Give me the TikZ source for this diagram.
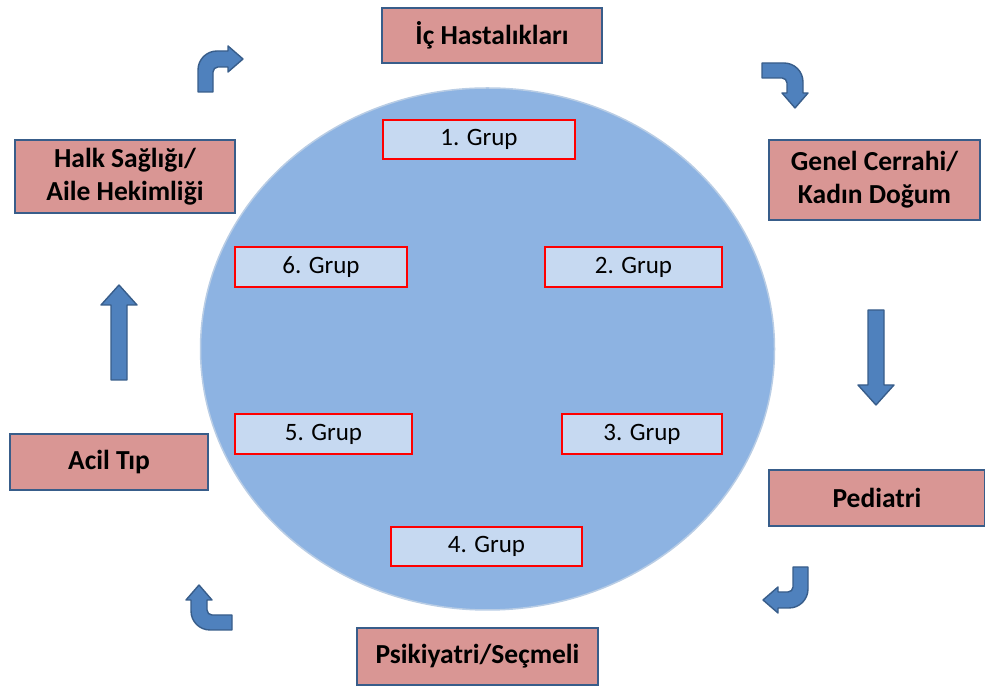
\documentclass[tikz,border=0pt]{standalone}
\usepackage{fontspec}
\setmainfont{Carlito}
\usepackage{tikz}
\usetikzlibrary{positioning}
\definecolor{rotfill}{HTML}{D99694}
\definecolor{rotline}{HTML}{385D8A}
\definecolor{ringfill}{HTML}{8DB3E2}
\definecolor{ringline}{HTML}{B9CDE5}
\definecolor{grupfill}{HTML}{C6D9F1}
\definecolor{pfeilfill}{HTML}{4F81BD}

\begin{document}
\begin{tikzpicture}[x=1pt,y=1pt]
\tikzset{rotation/.style = {draw=rotline, line width=1.6pt, fill=rotfill, align=center,
           font=\fontsize{27.5}{33}\selectfont\bfseries, inner sep=0pt},
         grup/.style = {draw=red, line width=1.8pt, fill=grupfill, inner sep=0pt,
           font=\fontsize{25}{30}\selectfont},
         pfeil/.style = {draw=rotline, line width=1.4pt, fill=pfeilfill, line join=round},
         bentarrow/.pic = {\filldraw[pfeil] (0,0) -- (0,22) .. controls (0,32.5) and (8.5,41) .. (19,41)
           -- (30,41) -- (30,46) -- (45,33) -- (30,20) -- (30,25) -- (20,25)
           .. controls (17.2,25) and (15,22.8) .. (15,20) -- (15,0) -- cycle;},
         blockarrow/.pic = {\filldraw[pfeil] (-8,0) -- (-8,75) -- (-18,75) -- (0,95) -- (18,75)
           -- (8,75) -- (8,0) -- cycle;}}
\useasboundingbox (0,0) rectangle (985,690);
            % ring
	\fill[ringfill] (487.5,341) ellipse [x radius=287, y radius=261];
	\draw[ringline, line width=1.5pt] (487.5,341) ellipse [x radius=287, y radius=261];
            % rotations
	\node[rotation, minimum width=220, minimum height=55] (ic) at (492,654.5) {İç Hastalıkları};
	\node[rotation, minimum width=211, minimum height=80] (genel) at (874.5,510) {Genel Cerrahi/\\Kadın Doğum};
	\node[rotation, minimum width=216, minimum height=56] (ped) at (877,192) {Pediatri};
	\node[rotation, minimum width=241, minimum height=57] (psi) at (477.5,33.5) {Psikiyatri/Seçmeli};
	\node[rotation, minimum width=198, minimum height=56] (acil) at (109,228) {Acil Tıp};
	\node[rotation, minimum width=220, minimum height=73] (halk) at (125,513.5) {Halk Sağlığı/\\Aile Hekimliği};
            % groups
	\node[grup, minimum width=192, minimum height=39] (g1) at (479,550.5) {1. Grup};
	\node[grup, minimum width=177, minimum height=40] (g2) at (633.5,423) {2. Grup};
	\node[grup, minimum width=160, minimum height=40] (g3) at (642,256) {3. Grup};
	\node[grup, minimum width=191, minimum height=39] (g4) at (486.5,143.5) {4. Grup};
	\node[grup, minimum width=177, minimum height=40] (g5) at (323.5,256) {5. Grup};
	\node[grup, minimum width=172, minimum height=40] (g6) at (321,423) {6. Grup};
            % arrows
	\pic at (198,598) {bentarrow};
	\pic[rotate=-90] at (762,627) {bentarrow};
	\pic at (876,380) [rotate=180] {blockarrow};
	\pic[rotate=180] at (808,123) {bentarrow};
	\pic[rotate=90] at (232,60) {bentarrow};
	\pic at (119,310) {blockarrow};
\end{tikzpicture}
\end{document}
